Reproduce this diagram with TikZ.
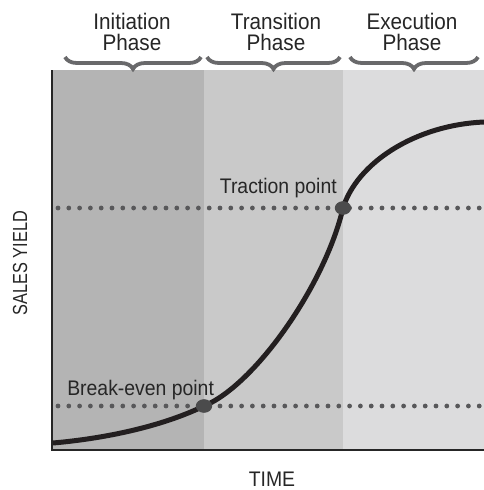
\documentclass[tikz,border=0pt]{standalone}
\usepackage{fontspec}
\setmainfont{Liberation Sans}[FakeStretch=0.92]
\newfontfamily\narrowfont{Liberation Sans}[FakeStretch=0.8]
\usetikzlibrary{decorations.pathreplacing}
\usetikzlibrary{shapes.geometric,calc}

\definecolor{bandA}{HTML}{B4B4B4}
\definecolor{bandB}{HTML}{C9C9C9}
\definecolor{bandC}{HTML}{DCDCDD}
\definecolor{inkgray}{HTML}{262626}
\definecolor{dotgray}{HTML}{58585A}
\definecolor{bracegray}{HTML}{69696B}
\definecolor{curveblack}{HTML}{231F20}

\begin{document}
\begin{tikzpicture}[x=0.25mm,y=-0.25mm,
		phase/.style={align=center,inner sep=0pt,anchor=north,text=inkgray,font=\fontsize{16}{14.9}\selectfont},
		lbl/.style={inner sep=0pt,text=inkgray,font=\fontsize{15}{15}\selectfont},
		level/.style={draw=dotgray,line width=1.2mm,line cap=round,dash pattern=on 0pt off 2.7mm},
		hit/.style={ellipse,fill=dotgray!85!black,minimum width=4.1mm,minimum height=3.4mm,inner sep=0pt},
		brc/.style={decorate,decoration={brace,amplitude=3mm,mirror},draw=bracegray,line width=0.95mm}]
		\useasboundingbox (0,0) rectangle (484,490);

		% phase bands
		\fill[bandA] (52,70) rectangle (204,450);
		\fill[bandB] (204,70) rectangle (343,450);
		\fill[bandC] (343,70) rectangle (484,450);

		\coordinate(O) at (52,450);
		\coordinate(Y) at (52,70);
		\coordinate(X) at (484,450);
		\draw[inkgray,line width=0.5mm] (Y)--(O)--(X);

		% levels
		\coordinate(tl) at (58,208);
		\coordinate(tr) at (484,208);
		\coordinate(bl) at (58,406);
		\coordinate(br) at (484,406);
		\coordinate(T) at (343,208);
		\coordinate(B) at (204,406);
		\draw[level] (tl)--(tr);
		\draw[level] (bl)--(br);

		\draw[curveblack,line width=1.25mm] (53,443)
			.. controls (110,438) and (165,425) .. (B)
			.. controls (255,385) and (325,285) .. (T)
			.. controls (357,163) and (415,125) .. (484,122);

		\node[hit] (traction) at (T) {};
		\node[hit] (breakeven) at (B) {};

		\node[lbl,anchor=base east] (tractionlbl) at (337,193) {Traction point};
		\node[lbl,anchor=base west] (breakevenlbl) at (67,395) {Break-even point};

		% phases
		\node[phase] (init) at (132,13) {Initiation\\Phase};
		\node[phase] (trans) at (276,13) {Transition\\Phase};
		\node[phase] (exec) at (412,13) {Execution\\Phase};
		\draw[brc] (65,57)--(201,57);
		\draw[brc] (207,57)--(340,57);
		\draw[brc] (350,57)--(478,57);

		% axes labels
		\node[lbl,font=\narrowfont\fontsize{14.5}{14.5}\selectfont,rotate=90] (ylbl) at (20,263) {SALES YIELD};
		\node[lbl,anchor=base] (xlbl) at (272,486) {TIME};
	\end{tikzpicture}
\end{document}
